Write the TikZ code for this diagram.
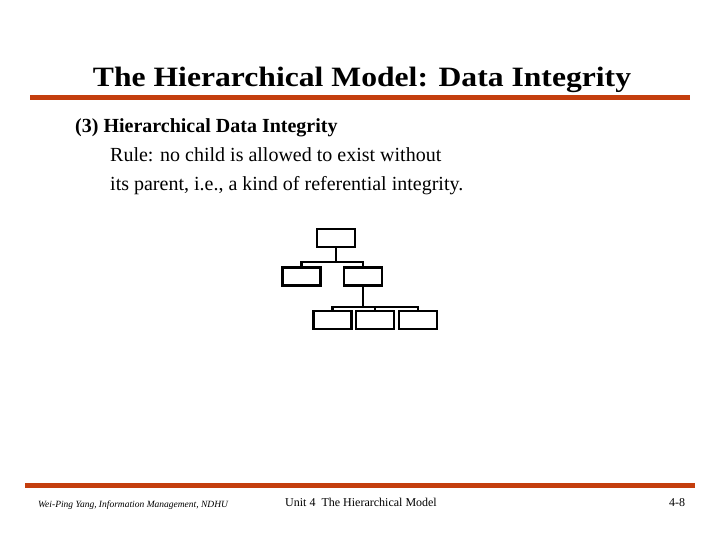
\documentclass[tikz,border=0pt]{standalone}
\usepackage{fontspec}
\setmainfont{Liberation Serif}
\newfontfamily\titlefont[FakeStretch=1.13]{Liberation Serif}
\usepackage{xcolor}
\usepackage{tikz}
\usetikzlibrary{calc,positioning}
\definecolor{rulered}{RGB}{196,62,14}

\begin{document}
\begin{tikzpicture}[x=1pt,y=-1pt,
    rec/.style={draw, line width=2.4pt, minimum width=38pt, minimum height=18pt, inner sep=0pt},
    link/.style={line width=2.4pt},
    txt/.style={anchor=base west, inner sep=0pt}]
            \useasboundingbox (0,0) rectangle (720,540);
            % title and rules
            \node[anchor=base, inner sep=0pt, font=\titlefont\fontsize{28}{30}\selectfont\bfseries] at (362,87) (title) {The Hierarchical Model: Data Integrity};
            \fill[rulered] (30,95) rectangle (690,100);
            \fill[rulered] (25,483) rectangle (695,488);
            % body text
            \node[txt, font=\fontsize{20}{22}\selectfont\bfseries] at (75,133) (head) {(3) Hierarchical Data Integrity};
            \node[txt, font=\fontsize{20}{22}\selectfont] at (110,162) (rule1) {Rule: no child is allowed to exist without};
            \node[txt, font=\fontsize{20}{22}\selectfont] at (110,191) (rule2) {its parent, i.e., a kind of referential integrity.};
            % tree
            \node[rec] at (336,238) (root) {};
            \node[rec] at (301.5,276.5) (c1) {};
            \node[rec] at (363,276.5) (c2) {};
            \node[rec] at (332.5,320) (g1) {};
            \node[rec] at (375,320) (g2) {};
            \node[rec] at (418,320) (g3) {};
            \draw[link] (root.south) -- ++(0,14) coordinate (j1);
            \draw[link] (c1.north) |- (j1) -| (c2.north);
            \draw[link] (c2.south) -- ++(0,20) coordinate (j2);
            \draw[link] (g1.north) |- (j2) -| (g3.north);
            \draw[link] (g2.north) -- (g2.north |- j2);
            % footer
            \node[txt, font=\fontsize{9.5}{11}\selectfont\itshape] at (38,507) (author) {Wei-Ping Yang, Information Management, NDHU};
            \node[txt, font=\fontsize{12}{14}\selectfont] at (285,506) (unit) {Unit 4\ \ The Hierarchical Model};
            \node[txt, font=\fontsize{12}{14}\selectfont] at (669,506) (page) {4-8};
        \end{tikzpicture}
\end{document}
